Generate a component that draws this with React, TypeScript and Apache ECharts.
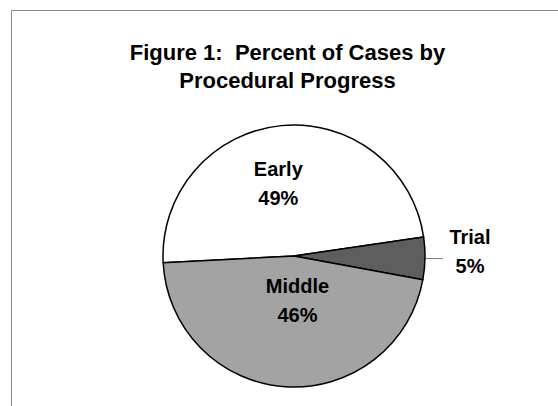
import React, { useEffect, useRef } from "react";
import * as echarts from "echarts";

const categories = ["Early", "Trial", "Middle"];
const values = [48.5, 5.2, 46.3];
const sliceColors = ["#ffffff", "#5e5e5e", "#a3a3a3"];
const titleLines = ["Figure 1:  Percent of Cases by", "Procedural Progress"];

const FONT = "'Liberation Sans', Arial, Helvetica, sans-serif";

export default function App() {
  const ref = useRef<HTMLDivElement>(null);
  useEffect(() => {
    document.body.style.margin = "0";
    const chart = echarts.init(ref.current!, null, { renderer: "svg" });
    const labelOffsets = [
      { dx: -9, dy: -4 },
      { dx: 0, dy: -7 },
      { dx: 8, dy: -24 },
    ];
    const data = categories.map((name, i) => {
      const item: any = {
        name,
        value: values[i],
        itemStyle: { color: sliceColors[i] },
      };
      if (name === "Trial") {
        item.label = {
          position: "outside",
          formatter: "{t|{b}}\n{t|{d}%}",
          rich: {
            t: {
              width: 44,
              align: "center",
              fontSize: 20,
              fontWeight: "bold",
              lineHeight: 29,
              fontFamily: FONT,
              color: "#000",
            },
          },
        };
        item.labelLine = {
          show: true,
          length: 12,
          length2: 6,
          lineStyle: { color: "#777", width: 1 },
        };
      }
      return item;
    });
    chart.setOption({
      animation: false,
      backgroundColor: "#ffffff",
      graphic: [
        {
          type: "rect",
          silent: true,
          z: -10,
          shape: { x: 11.5, y: 10.5, width: 700, height: 600 },
          style: { fill: "none", stroke: "#8a8a8a", lineWidth: 1 },
        },
        {
          type: "text",
          x: 287.5,
          y: 66,
          style: {
            text: titleLines.join("\n"),
            align: "center",
            verticalAlign: "middle",
            fontSize: 22,
            fontWeight: "bold",
            lineHeight: 28,
            fontFamily: FONT,
            fill: "#000",
          },
        },
      ],
      series: [
        {
          type: "pie",
          center: [294, 256],
          radius: 131,
          startAngle: 182.9,
          clockwise: true,
          percentPrecision: 0,
          avoidLabelOverlap: false,
          itemStyle: { borderColor: "#000", borderWidth: 1.5 },
          label: {
            show: true,
            position: "inside",
            formatter: "{b}\n{d}%",
            fontSize: 20,
            fontWeight: "bold",
            lineHeight: 29,
            fontFamily: FONT,
            color: "#000",
          },
          labelLine: { show: false },
          labelLayout: (params: any) => labelOffsets[params.dataIndex],
          emphasis: { disabled: true },
          data,
        },
      ],
    });
    return () => chart.dispose();
  }, []);
  return <div ref={ref} style={{ width: 558, height: 406 }} />;
}
